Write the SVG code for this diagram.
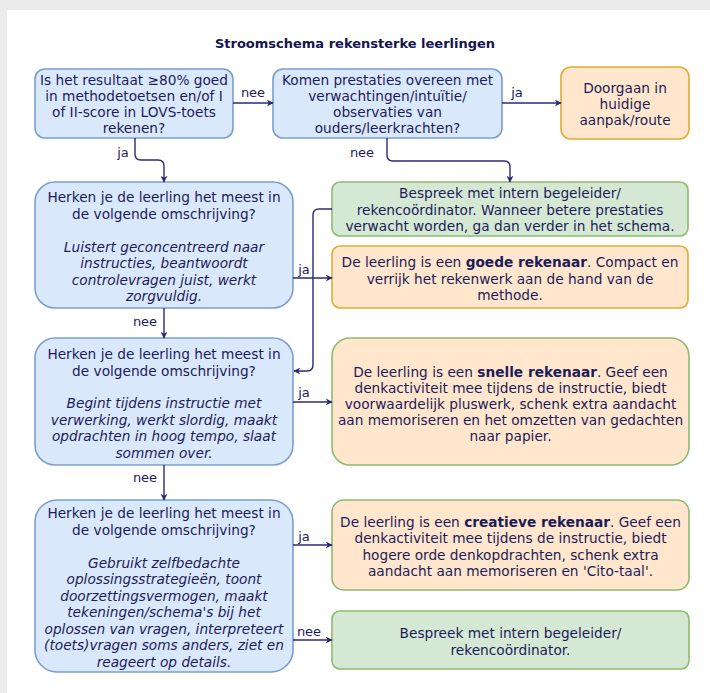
<svg xmlns="http://www.w3.org/2000/svg" width="710" height="693" viewBox="0 0 710 693">
<style>
text{font-family:"DejaVu Sans",Verdana,sans-serif;font-size:13.7px;fill:#1c1c5a;text-anchor:middle}
.t{font-size:13px;font-weight:bold;fill:#141450}
.lbl{font-size:13px}
.i{font-style:italic}
.b{font-weight:bold}
.blue{fill:#dae8fc;stroke:#7b9fcc;stroke-width:1.6}
.green{fill:#d5e8d4;stroke:#8cbb6e;stroke-width:1.6}
.orange{fill:#ffe6cc;stroke:#e0ac32;stroke-width:1.6}
.og{fill:#ffe6cc;stroke:#8cbb6e;stroke-width:1.6}
.c{fill:none;stroke:#2a2a72;stroke-width:1.4;marker-end:url(#arr)}
</style>
<defs>
<marker id="arr" viewBox="0 0 10 10" refX="9" refY="5" markerWidth="7" markerHeight="7" markerUnits="userSpaceOnUse" orient="auto">
<path d="M0,0 L10,5 L0,10 L3,5 z" fill="#2a2a72"/>
</marker>
</defs>
<rect x="0" y="0" width="710" height="693" fill="#ececec"/>
<rect x="7" y="10" width="703" height="683" fill="#ffffff"/>
<text class="t" x="355" y="48">Stroomschema rekensterke leerlingen</text>

<g id="q1">
<rect class="blue" x="35" y="69" width="198" height="69" rx="10"/>
<text x="134" y="85">Is het resultaat ≥80% goed</text>
<text x="134" y="101">in methodetoetsen en/of I</text>
<text x="134" y="117">of II-score in LOVS-toets</text>
<text x="134" y="133">rekenen?</text>
</g>
<g id="q2">
<rect class="blue" x="273" y="69" width="229" height="69" rx="10"/>
<text x="387.5" y="85">Komen prestaties overeen met</text>
<text x="387.5" y="101">verwachtingen/intuïtie/</text>
<text x="387.5" y="117">observaties van</text>
<text x="387.5" y="133">ouders/leerkrachten?</text>
</g>
<g id="doorgaan">
<rect class="orange" x="561" y="67" width="128" height="72" rx="10"/>
<text x="625" y="93">Doorgaan in</text>
<text x="625" y="109">huidige</text>
<text x="625" y="125">aanpak/route</text>
</g>

<g id="qA">
<rect class="blue" x="35" y="182" width="258" height="126" rx="20"/>
<text x="164" y="202">Herken je de leerling het meest in</text>
<text x="164" y="218.5">de volgende omschrijving?</text>
<text class="i" x="164" y="251.5">Luistert geconcentreerd naar</text>
<text class="i" x="164" y="268">instructies, beantwoordt</text>
<text class="i" x="164" y="284.5">controlevragen juist, werkt</text>
<text class="i" x="164" y="301">zorgvuldig.</text>
</g>
<g id="bespreek1">
<rect class="green" x="332" y="182" width="356" height="54" rx="8"/>
<text x="510" y="198">Bespreek met intern begeleider/</text>
<text x="510" y="214.5">rekencoördinator. Wanneer betere prestaties</text>
<text x="510" y="231">verwacht worden, ga dan verder in het schema.</text>
</g>
<g id="goede">
<rect class="orange" x="332" y="246" width="356" height="62" rx="8"/>
<text x="510" y="267">De leerling is een <tspan class="b">goede rekenaar</tspan>. Compact en</text>
<text x="510" y="283.5">verrijk het rekenwerk aan de hand van de</text>
<text x="510" y="300">methode.</text>
</g>

<g id="qB">
<rect class="blue" x="35" y="338" width="258" height="127" rx="20"/>
<text x="164" y="359">Herken je de leerling het meest in</text>
<text x="164" y="375.5">de volgende omschrijving?</text>
<text class="i" x="164" y="408">Begint tijdens instructie met</text>
<text class="i" x="164" y="424.5">verwerking, werkt slordig, maakt</text>
<text class="i" x="164" y="441">opdrachten in hoog tempo, slaat</text>
<text class="i" x="164" y="457.5">sommen over.</text>
</g>
<g id="snelle">
<rect class="og" x="332" y="338" width="357" height="127" rx="18"/>
<text x="510.5" y="377">De leerling is een <tspan class="b">snelle rekenaar</tspan>. Geef een</text>
<text x="510.5" y="393">denkactiviteit mee tijdens de instructie, biedt</text>
<text x="510.5" y="409">voorwaardelijk pluswerk, schenk extra aandacht</text>
<text x="510.5" y="425">aan memoriseren en het omzetten van gedachten</text>
<text x="510.5" y="441">naar papier.</text>
</g>

<g id="qC">
<rect class="blue" x="35" y="500" width="258" height="172" rx="22"/>
<text x="164" y="518">Herken je de leerling het meest in</text>
<text x="164" y="534.5">de volgende omschrijving?</text>
<text class="i" x="164" y="567.5">Gebruikt zelfbedachte</text>
<text class="i" x="164" y="584">oplossingsstrategieën, toont</text>
<text class="i" x="164" y="600.5">doorzettingsvermogen, maakt</text>
<text class="i" x="164" y="617">tekeningen/schema's bij het</text>
<text class="i" x="164" y="633.5">oplossen van vragen, interpreteert</text>
<text class="i" x="164" y="650">(toets)vragen soms anders, ziet en</text>
<text class="i" x="164" y="666.5">reageert op details.</text>
</g>
<g id="creatieve">
<rect class="og" x="332" y="500" width="357" height="90" rx="12"/>
<text x="510.5" y="527">De leerling is een <tspan class="b">creatieve rekenaar</tspan>. Geef een</text>
<text x="510.5" y="543">denkactiviteit mee tijdens de instructie, biedt</text>
<text x="510.5" y="560">hogere orde denkopdrachten, schenk extra</text>
<text x="510.5" y="576">aandacht aan memoriseren en 'Cito-taal'.</text>
</g>
<g id="bespreek2">
<rect class="green" x="332" y="611" width="357" height="58" rx="8"/>
<text x="510.5" y="638">Bespreek met intern begeleider/</text>
<text x="510.5" y="655">rekencoördinator.</text>
</g>

<g id="connectors">
<path class="c" d="M233,103 H273"/>
<text class="lbl" x="253" y="97">nee</text>
<path class="c" d="M502,103 H561"/>
<text class="lbl" x="517" y="97">ja</text>
<path class="c" d="M135,138 V154 Q135,160 141,160 H158 Q164,160 164,166 V182"/>
<text class="lbl" x="123" y="157">ja</text>
<path class="c" d="M387,138 V155 Q387,161 393,161 H504 Q510,161 510,167 V182"/>
<text class="lbl" x="362" y="157">nee</text>
<path class="c" d="M293,278 H332"/>
<text class="lbl" x="304" y="274">ja</text>
<path class="c" d="M332,209 H319 Q313,209 313,215 V365 Q313,371 307,371 H294"/>
<path class="c" d="M164,308 V338"/>
<text class="lbl" x="145" y="326">nee</text>
<path class="c" d="M293,402 H332"/>
<text class="lbl" x="304" y="397">ja</text>
<path class="c" d="M164,465 V500"/>
<text class="lbl" x="145" y="482">nee</text>
<path class="c" d="M293,545 H332"/>
<text class="lbl" x="304" y="541">ja</text>
<path class="c" d="M293,640 H332"/>
<text class="lbl" x="309" y="636">nee</text>
</g>
</svg>
